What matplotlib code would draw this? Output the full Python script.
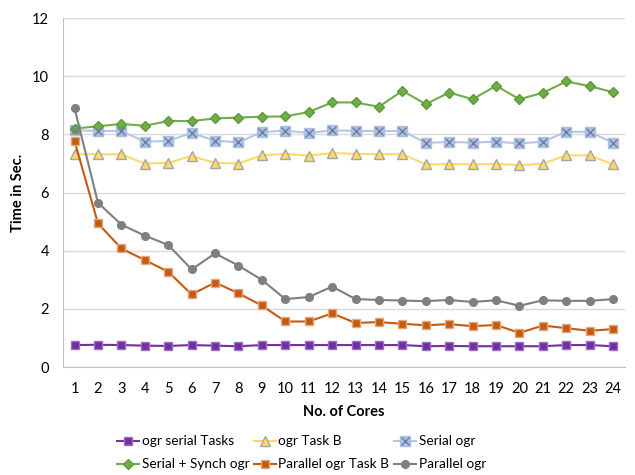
import matplotlib
matplotlib.use("Agg")
import matplotlib.pyplot as plt

cores = list(range(1, 25))
ogr_serial_tasks = [0.76, 0.77, 0.76, 0.74, 0.73, 0.76, 0.74, 0.72, 0.76, 0.76, 0.76, 0.76, 0.76, 0.76, 0.76, 0.72, 0.73, 0.72, 0.72, 0.72, 0.72, 0.76, 0.76, 0.72]
ogr_task_b = [7.32, 7.32, 7.31, 7.00, 7.02, 7.26, 7.02, 7.00, 7.28, 7.33, 7.27, 7.36, 7.33, 7.32, 7.32, 6.97, 6.98, 6.97, 6.99, 6.94, 7.00, 7.28, 7.28, 6.97]
serial_ogr = [8.14, 8.12, 8.12, 7.75, 7.78, 8.05, 7.78, 7.73, 8.08, 8.13, 8.05, 8.14, 8.12, 8.11, 8.12, 7.71, 7.74, 7.72, 7.75, 7.69, 7.75, 8.09, 8.09, 7.71]
serial_synch_ogr = [8.20, 8.28, 8.36, 8.30, 8.46, 8.46, 8.55, 8.58, 8.61, 8.62, 8.77, 9.10, 9.10, 8.95, 9.50, 9.04, 9.44, 9.21, 9.67, 9.21, 9.43, 9.82, 9.66, 9.45]
parallel_ogr_task_b = [7.77, 4.94, 4.08, 3.68, 3.28, 2.50, 2.91, 2.54, 2.12, 1.57, 1.57, 1.85, 1.52, 1.55, 1.49, 1.44, 1.48, 1.41, 1.45, 1.18, 1.43, 1.34, 1.25, 1.31]
parallel_ogr = [8.90, 5.65, 4.90, 4.52, 4.20, 3.36, 3.91, 3.49, 3.00, 2.34, 2.41, 2.77, 2.34, 2.31, 2.29, 2.27, 2.31, 2.24, 2.30, 2.11, 2.30, 2.28, 2.28, 2.34]

plt.rcParams['font.family'] = ['Lato', 'DejaVu Sans']

fig = plt.figure(figsize=(6.35, 4.75), dpi=100)
ax = fig.add_axes([0.099, 0.227, 0.885, 0.735])

series = [
    ("ogr serial Tasks", ogr_serial_tasks, dict(color="#7030A0", marker="s", mfc="#7030A0", mec="#9E6CC4", ms=5.5)),
    ("ogr Task B", ogr_task_b, dict(color="#FFD966", marker="^", mfc="#FFD966", mec="#A5A5A5", ms=6.5)),
    ("Serial ogr", serial_ogr, dict(color="#B4C7E7", marker="s", mfc="#A9BFE4", mec="#A9BFE4", ms=6.5)),
    ("Serial + Synch ogr", serial_synch_ogr, dict(color="#70AD47", marker="D", mfc="#70AD47", mec="#5E9A3A", ms=5)),
    ("Parallel ogr Task B", parallel_ogr_task_b, dict(color="#C55A11", marker="s", mfc="#C55A11", mec="#E2A77E", ms=6)),
    ("Parallel ogr", parallel_ogr, dict(color="#7F7F7F", marker="o", mfc="#7F7F7F", mec="#7F7F7F", ms=5.5)),
]
handles = {}
for name, vals, st in series:
    h, = ax.plot(cores, vals, lw=1.5, label=name, zorder=3, **st)
    handles[name] = h
    if name == "Serial ogr":
        hx, = ax.plot(cores, vals, ls='none', marker='x', color='#6F7F99', ms=6, mew=1.0, zorder=4)
        handles[name] = (h, hx)

ax.set_xlim(0.5, 24.5)
ax.set_ylim(0, 12)
ax.set_yticks(range(0, 13, 2))
ax.set_xticks(cores)
ax.grid(axis='y', color='#D9D9D9', lw=1)
ax.set_axisbelow(True)
for s in ['top', 'right']:
    ax.spines[s].set_visible(False)
for s in ['left', 'bottom']:
    ax.spines[s].set_color('#BFBFBF')
ax.tick_params(axis='x', length=0, labelsize=10.5, colors='#000000', pad=11)
ax.tick_params(axis='y', length=0, labelsize=10.5, colors='#000000', pad=10)
ax.set_xlabel("No. of Cores", fontsize=10.5, fontweight='bold', labelpad=6)
ax.set_ylabel("Time in Sec.", fontsize=10.5, fontweight='bold', labelpad=5)

order = ["ogr serial Tasks", "Serial + Synch ogr", "ogr Task B", "Parallel ogr Task B", "Serial ogr", "Parallel ogr"]
fig.legend([handles[n] for n in order], order, ncol=3, loc='lower left',
           bbox_to_anchor=(0.165, -0.016), frameon=False, fontsize=9.8,
           handlelength=1.6, handletextpad=0.2, columnspacing=0.35, labelspacing=0.8)

fig.savefig("out.png", dpi=100)
